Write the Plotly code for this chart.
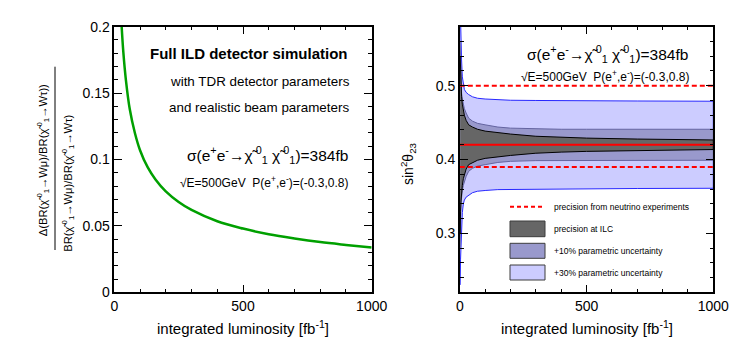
import plotly.graph_objects as go

W, H = 749, 363
FONT = "Liberation Sans, Arial, sans-serif"

# left panel: relative precision of the BR ratio vs integrated luminosity
lumi_br = [28, 35, 45, 60, 80, 100, 130, 160, 200, 250, 300, 400, 500, 600, 700, 800, 900, 1000]
rel_br = [0.202, 0.181, 0.160, 0.138, 0.120, 0.107, 0.094, 0.085, 0.076, 0.068, 0.062,
          0.0535, 0.048, 0.0437, 0.0405, 0.0378, 0.0357, 0.0338]

# right panel: sin^2(theta23) bands vs integrated luminosity
lumi = [1.5, 3, 5, 7, 10, 14, 18, 25, 35, 50, 70, 100, 150, 200, 300, 400, 500, 700, 1000]
ilc_hi = [0.54, 0.51, 0.495, 0.485, 0.475, 0.466, 0.46, 0.453, 0.447, 0.444, 0.441,
          0.4385, 0.436, 0.4345, 0.4315, 0.43, 0.429, 0.4277, 0.4265]
ilc_lo = [0.30, 0.33, 0.345, 0.355, 0.365, 0.374, 0.38, 0.387, 0.393, 0.396, 0.399,
          0.4015, 0.404, 0.4055, 0.4085, 0.41, 0.411, 0.4123, 0.4135]
p10_hi = [0.56, 0.52, 0.498, 0.49, 0.482, 0.475, 0.469, 0.463, 0.456, 0.452, 0.449,
          0.447, 0.444, 0.4425, 0.4415, 0.441, 0.441, 0.441, 0.441]
p10_lo = [0.28, 0.32, 0.342, 0.35, 0.358, 0.365, 0.371, 0.377, 0.384, 0.388, 0.391,
          0.393, 0.396, 0.3975, 0.3985, 0.399, 0.399, 0.399, 0.399]
p30_hi = [0.61, 0.575, 0.55, 0.535, 0.512, 0.50, 0.495, 0.491, 0.488, 0.485, 0.483,
          0.482, 0.4808, 0.4803, 0.48, 0.4797, 0.4795, 0.4793, 0.479]
p30_lo = [0.23, 0.265, 0.29, 0.305, 0.328, 0.34, 0.345, 0.349, 0.352, 0.355, 0.357,
          0.358, 0.3592, 0.3597, 0.36, 0.3603, 0.3605, 0.3607, 0.361]
central_value = 0.42
neutrino_limits = [0.39, 0.5]
lumi_range = [0, 1000]

GREY = "rgb(102,102,102)"
PURPLE = "rgb(153,153,204)"
LIGHTBLUE = "rgb(204,204,255)"


def px(x, y):
    return x / W, 1 - y / H


fig = go.Figure()

fig.add_trace(go.Scatter(x=lumi_br, y=rel_br, mode="lines",
                         line=dict(color="rgb(0,160,0)", width=2.5, shape="spline"),
                         xaxis="x", yaxis="y"))

for hi, lo, fill, edge in [(p30_hi, p30_lo, LIGHTBLUE, "rgb(40,40,255)"),
                           (p10_hi, p10_lo, PURPLE, "rgb(100,100,160)"),
                           (ilc_hi, ilc_lo, GREY, "black")]:
    fig.add_trace(go.Scatter(x=lumi + lumi[::-1], y=hi + lo[::-1], mode="lines",
                             fill="toself", fillcolor=fill, line=dict(color=edge, width=1),
                             xaxis="x2", yaxis="y2"))

fig.add_trace(go.Scatter(x=lumi_range, y=[central_value] * 2, mode="lines",
                         line=dict(color="red", width=2), xaxis="x2", yaxis="y2"))
for v in neutrino_limits:
    fig.add_trace(go.Scatter(x=lumi_range, y=[v, v], mode="lines",
                             line=dict(color="red", width=2, dash="5px,3px"),
                             xaxis="x2", yaxis="y2"))

axis = dict(showline=True, linecolor="black", linewidth=1.5, mirror="allticks",
            ticks="inside", ticklen=8, tickwidth=1, tickcolor="black",
            showgrid=False, zeroline=False,
            tickfont=dict(family=FONT, size=14, color="black"),
            minor=dict(ticks="inside", ticklen=4, tickwidth=1, tickcolor="black", showgrid=False))

ydom = [1 - 292.3 / H, 1 - 26.7 / H]
fig.update_layout(
    width=W, height=H, margin=dict(l=0, r=0, t=0, b=0, autoexpand=False),
    paper_bgcolor="white", plot_bgcolor="white", showlegend=False,
    font=dict(family=FONT, color="black"),
    xaxis=dict(axis, domain=[114.3 / W, 371.7 / W], range=lumi_range, dtick=500,
               minor=dict(axis["minor"], dtick=100), anchor="y"),
    yaxis=dict(axis, domain=ydom, range=[0, 0.2], dtick=0.05,
               minor=dict(axis["minor"], dtick=0.01), anchor="x"),
    xaxis2=dict(axis, domain=[459.8 / W, 713.3 / W], range=lumi_range, dtick=500,
                minor=dict(axis["minor"], dtick=100), anchor="y2"),
    yaxis2=dict(axis, domain=ydom, range=[0.22, 0.58], tick0=0, dtick=0.1,
                minor=dict(axis["minor"], tick0=0, dtick=0.02), anchor="x2"),
)

chi = "\u03c7\u0303\u2009<sup>0</sup><sub>1</sub>"
sigma = f"\u03c3(e<sup>+</sup>e<sup>-</sup>\u2192{chi} {chi})=384fb"
sqrt_e = "\u221aE=500GeV  P(e<sup>+</sup>,e<sup>-</sup>)=(-0.3,0.8)"

notes = [
    # (x, y, text, size, xanchor, angle)
    (243, 327, "integrated luminosity [fb<sup>-1</sup>]", 15, "center", 0),
    (586.5, 327, "integrated luminosity [fb<sup>-1</sup>]", 15, "center", 0),
    (350, 53, "<b>Full ILD detector simulation</b>", 15, "right", 0),
    (352, 81, "with TDR detector parameters", 13.4, "right", 0),
    (351, 107, "and realistic beam parameters", 13.4, "right", 0),
    (350, 155, sigma, 15.5, "right", 0),
    (350, 182, sqrt_e, 12, "right", 0),
    (690, 54, sigma, 15.5, "right", 0),
    (691, 76, sqrt_e, 12, "right", 0),
    (408, 164, "sin<sup>2</sup>\u03b8<sub>23</sub>", 14, "center", -90),
    (42.7, 160.5, f"\u0394(BR({chi}\u2192W\u03bc)/BR({chi}\u2192W\u03c4))", 11.2, "center", -90),
    (68.3, 183.5, f"BR({chi}\u2192W\u03bc)/BR({chi}\u2192W\u03c4)", 11.2, "center", -90),
    (551.7, 206.7, "precision from neutrino experiments", 8.5, "left", 0),
    (551.7, 229, "precision at ILC", 8.5, "left", 0),
    (551.7, 251, "+10% parametric uncertainty", 8.5, "left", 0),
    (551.7, 272.5, "+30% parametric uncertainty", 8.5, "left", 0),
]
for x, y, text, size, xa, ang in notes:
    ax, ay = px(x, y)
    fig.add_annotation(x=ax, y=ay, xref="paper", yref="paper", text=text, showarrow=False,
                       xanchor=xa, yanchor="middle", textangle=ang,
                       font=dict(family=FONT, size=size, color="black"))

# fraction bar of the left y title
x0, y0 = px(55, 66.7)
x1, y1 = px(55, 250)
fig.add_shape(type="line", xref="paper", yref="paper", x0=x0, y0=y0, x1=x1, y1=y1,
              line=dict(color="black", width=1))

# legend of the right panel
x0, y0 = px(510, 206.7)
x1, _ = px(543, 206.7)
fig.add_shape(type="line", xref="paper", yref="paper", x0=x0, y0=y0, x1=x1, y1=y0,
              line=dict(color="red", width=2, dash="4px,3px"))
for top, bot, fill in [(221, 236.7, GREY), (243.3, 258.3, PURPLE), (265, 280, LIGHTBLUE)]:
    x0, y0 = px(510, bot)
    x1, y1 = px(545, top)
    fig.add_shape(type="rect", xref="paper", yref="paper", x0=x0, y0=y0, x1=x1, y1=y1,
                  fillcolor=fill, line=dict(color="rgb(60,60,60)", width=1))

# drop the default body margin so the figure sits at the page origin
fig.write_html("out.html", config={"displayModeBar": False},
               post_script="document.body.style.margin='0';")
